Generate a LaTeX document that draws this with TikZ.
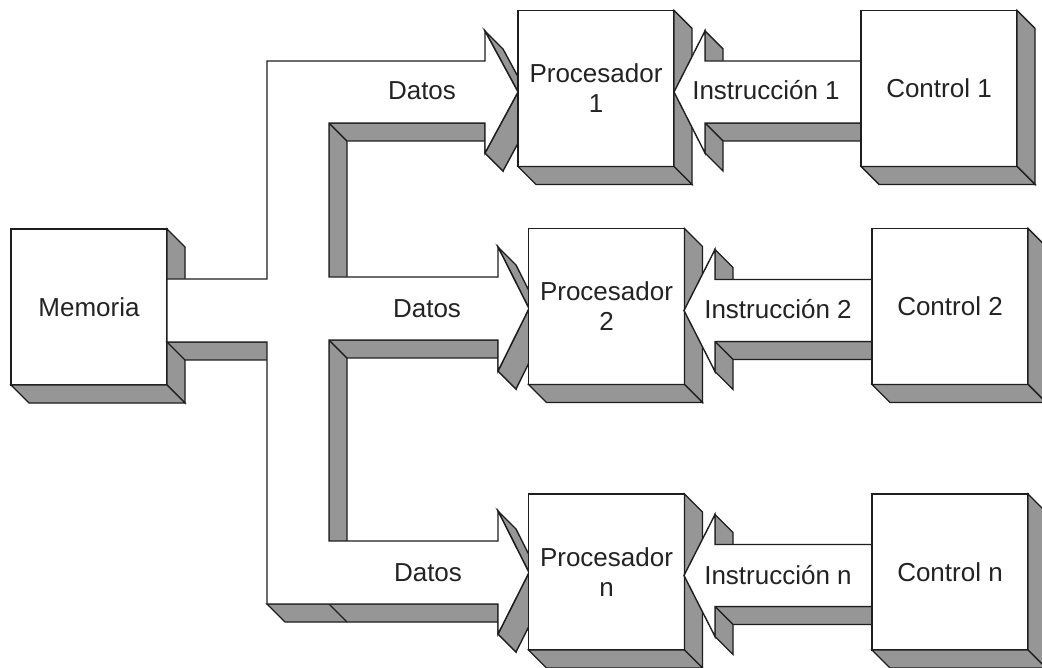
\documentclass[tikz,border=0pt]{standalone}
\usepackage{fontspec}
\setmainfont{Liberation Sans}
\usetikzlibrary{calc}
\definecolor{shade}{RGB}{150,150,150}
\definecolor{linec}{RGB}{30,30,30}
\definecolor{textc}{RGB}{35,35,35}
\newcommand\boxsides[1]{%
  \draw[side] (#1.north east) -- ++(18,18) -- ($(#1.south east)+(18,18)$) -- (#1.south east) -- cycle;
  \draw[side] (#1.south west) -- ++(18,18) -- ($(#1.south east)+(18,18)$) -- (#1.south east) -- cycle;}
% instruction arrow: tip x, tip y, length from tip to end
\newcommand\instrarrow[3]{%
  \begin{scope}[shift={(#1,#2)}]
    \draw[side] (31,-61) -- (31,-31) -- (49,-13) -- (49,-43) -- cycle;
    \draw[side] (31,31) -- (#3,31) -- ($(#3,31)+(18,18)$) -- (49,49) -- cycle;
    \draw[side] (31,61) -- (31,31) -- (49,49) -- (49,79) -- cycle;
    \draw[face] (#3,-31) -- (31,-31) -- (31,-61) -- (0,0) -- (31,61) -- (31,31) -- (#3,31) -- cycle;
  \end{scope}}
% data arrowhead side faces: tip x, tip y, back x, shaft top, shaft bottom, barb top, barb bottom, shaft start x
\newcommand\dataheadsides[8]{%
  \draw[side] (#3,#5) -- (#8,#5) -- ($(#8,#5)+(18,18)$) -- ($(#3,#5)+(18,18)$) -- cycle;
  \draw[side] (#3,#7) -- (#3,#5) -- ($(#3,#5)+(18,18)$) -- ($(#3,#7)+(18,18)$) -- cycle;
  \draw[side] (#1,#2) -- (#3,#7) -- ($(#3,#7)+(18,18)$) -- ($(#1,#2)+(18,18)$) -- cycle;
  \draw[side] (#3,#6) -- (#1,#2) -- ($(#1,#2)+(18,18)$) -- ($(#3,#6)+(18,18)$) -- cycle;}
\begin{document}
\begin{tikzpicture}[x=1pt,y=-1pt,
  face/.style={fill=white,draw=linec,line width=1.4pt,line join=miter},
  side/.style={fill=shade,draw=linec,line width=1.4pt,line join=miter},
  blk/.style={face,minimum width=156pt,minimum height=156pt,outer sep=0pt,inner sep=0pt,
    align=center,text=textc,font=\fontsize{26}{30}\selectfont},
  lbl/.style={text=textc,font=\fontsize{26}{30}\selectfont,anchor=base,inner sep=0pt}]
\useasboundingbox (0,0) rectangle (1042,668);
\fill[white] (0,0) rectangle (1042,668);

% Memoria
\node[blk] (mem) at (89,307) {Memoria};
\boxsides{mem}

% ---- data bus: side faces ----
\draw[side] (267,342) -- (167,342) -- (185,360) -- (285,360) -- cycle;
% inner vertical edges
\draw[side] (329,123) -- (329,277) -- (347,295) -- (347,141) -- cycle;
\draw[side] (329,340) -- (329,541) -- (347,559) -- (347,358) -- cycle;
% arrowheads
\dataheadsides{518}{92}{485}{61}{123}{31}{153}{329}
\dataheadsides{529}{308.5}{498}{277}{340}{247}{371}{329}
\dataheadsides{529}{572.5}{498}{541}{604}{511}{634}{267}
\draw[linec,line width=1.4pt] (329,604) -- (347,622);
% ---- data bus: front face ----
\draw[face] (mem.east |- 0,279) -- (267,279) -- (267,61) -- (485,61) -- (485,31) -- (518,92)
  -- (485,153) -- (485,123) -- (329,123) -- (329,277) -- (498,277) -- (498,247)
  -- (529,308.5) -- (498,371) -- (498,340) -- (329,340) -- (329,541) -- (498,541)
  -- (498,511) -- (529,572.5) -- (498,634) -- (498,604) -- (267,604) -- (267,342)
  -- (mem.east |- 0,342) -- cycle;
\node[lbl] (d1) at (422,100) {Datos};
\node[lbl] (d2) at (427,318) {Datos};
\node[lbl] (dn) at (428,581) {Datos};

% Processors
\node[blk] (p1) at (596,88.5) {Procesador\\1};
\boxsides{p1}
\node[blk] (p2) at (606.5,306.5) {Procesador\\2};
\boxsides{p2}
\node[blk] (pn) at (606.5,572) {Procesador\\n};
\boxsides{pn}

% Instruction arrows
\instrarrow{674}{92}{187}
\instrarrow{684}{310.5}{188}
\instrarrow{684}{575.5}{188}
\node[lbl] (i1) at (766,100) {Instrucción 1};
\node[lbl] (i2) at (778,319) {Instrucción 2};
\node[lbl] (in) at (778,584) {Instrucción n};

% Controls
\node[blk] (c1) at (939,88.5) {Control 1};
\boxsides{c1}
\node[blk] (c2) at (950,306.5) {Control 2};
\boxsides{c2}
\node[blk] (cn) at (950,572) {Control n};
\boxsides{cn}
\end{tikzpicture}
\end{document}
